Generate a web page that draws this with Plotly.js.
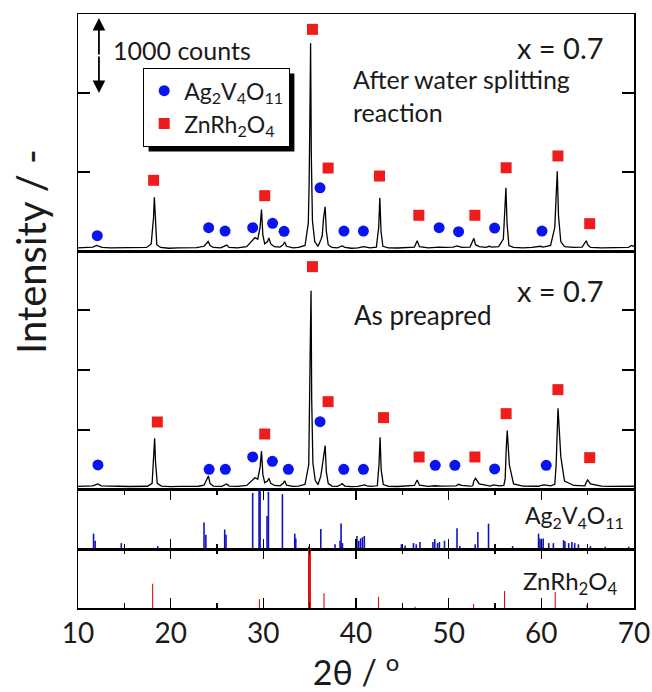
<!DOCTYPE html>
<html>
<head>
<meta charset="utf-8">
<script src="https://cdn.plot.ly/plotly-3.0.1.min.js"></script>
<style>html,body{margin:0;padding:0;background:#fff;}#chart{width:652px;height:692px;}</style>
</head>
<body>
<div id="chart"></div>
<script>
// ---- Data ----
// Panel 1: after water splitting reaction (2theta, counts)
const afterTheta = [10.0,10.8,11.6,12.0,12.2,12.6,13.5,14.5,15.5,16.5,17.4,17.9,18.15,18.24,18.33,18.5,18.9,19.8,20.8,21.8,22.8,23.6,23.9,24.05,24.25,24.6,25.4,25.9,26.05,26.3,27.2,28.2,28.8,29.1,29.4,29.65,29.8,29.95,30.15,30.45,30.6,30.8,31.2,31.8,32.15,32.3,32.5,33.2,33.8,34.5,34.85,34.95,35.05,35.1,35.18,35.3,35.55,35.9,36.2,36.35,36.5,36.67,36.8,37.0,37.4,38.0,38.4,38.55,38.8,39.5,40.2,40.8,41.1,41.5,42.2,42.45,42.57,42.7,42.9,43.5,44.5,45.5,46.3,46.6,46.85,47.8,48.5,49.0,49.6,50.5,50.9,51.07,51.4,52.3,52.6,52.72,52.9,53.3,54.0,54.4,54.6,55.4,55.9,56.05,56.18,56.3,56.5,57.0,58.0,59.0,59.6,59.9,60.2,61.0,61.45,61.62,61.72,61.85,62.1,62.5,63.5,64.4,64.7,64.85,65.0,65.3,66.5,67.5,68.5,69.4,69.7,70.0];
const afterCounts = [40,45,50,70,60,45,40,42,38,40,45,90,420,680,380,80,45,35,40,38,42,60,100,120,70,45,40,60,75,45,40,55,130,170,150,300,525,200,90,120,165,90,55,50,80,115,60,40,45,70,350,900,2000,2630,1200,380,120,60,140,190,420,560,250,80,45,40,60,65,45,35,40,55,50,40,50,300,675,250,60,40,38,42,50,130,55,40,50,48,45,50,65,55,45,50,120,160,80,55,45,60,50,55,150,500,800,350,70,45,40,45,55,60,50,70,300,700,1010,450,120,55,45,50,100,130,80,45,40,40,38,45,70,60];

// Panel 2: as prepared (2theta, counts)
const prepTheta = [10.0,10.8,11.6,12.0,12.15,12.5,13.5,14.5,15.5,16.5,17.5,18.0,18.18,18.27,18.36,18.55,19.0,20.0,21.0,22.0,23.0,23.6,23.9,24.07,24.25,24.6,25.5,25.9,26.05,26.3,27.2,28.2,28.8,29.1,29.4,29.65,29.8,29.95,30.15,30.45,30.6,30.8,31.2,31.8,32.15,32.3,32.5,33.2,33.8,34.5,34.9,35.0,35.08,35.15,35.22,35.35,35.6,35.9,36.2,36.3,36.5,36.67,36.8,37.0,37.4,38.0,38.4,38.5,38.8,39.5,40.2,40.9,41.2,41.6,42.3,42.48,42.6,42.72,42.95,43.5,44.5,45.5,46.3,46.6,46.85,47.8,48.5,49.2,50.0,50.8,51.07,51.4,52.3,52.6,52.72,52.9,53.3,54.0,54.5,54.8,55.5,55.95,56.1,56.2,56.32,56.55,57.0,58.0,59.0,59.7,59.99,60.3,61.0,61.45,61.6,61.69,61.8,62.1,62.5,63.5,64.4,64.7,64.85,65.0,65.3,66.5,67.5,68.5,69.5,70.0];
const prepCounts = [60,65,70,95,100,70,60,62,58,60,62,110,520,861,480,110,65,55,60,58,62,80,170,233,110,65,60,80,100,65,60,75,170,205,180,380,650,260,120,150,195,110,75,70,110,155,80,60,65,95,420,1295,2600,3322,1500,450,160,90,230,333,600,739,300,110,65,60,90,105,65,55,60,85,70,60,70,420,878,330,90,60,58,62,75,167,80,60,70,65,62,70,95,75,65,70,150,195,100,75,65,85,70,75,190,650,989,420,100,65,60,62,75,85,70,95,420,1000,1361,560,150,75,65,70,130,167,100,65,60,60,58,62,60];

// Phase markers, panel 1
const agMark1Theta = [12.08,24.1,25.87,28.85,31.0,32.24,36.12,38.7,40.8,48.97,51.07,54.96,60.07];
const agMark1Y     = [194,295,253,295,350,249,800,253,253,295,245,291,253];
const znMark1Theta = [18.16,30.15,35.3,36.99,42.54,46.78,52.83,56.2,61.79,65.22];
const znMark1Y     = [895,700,2806,1050,949,452,452,1054,1203,346];

// Phase markers, panel 2
const agMark2Theta = [12.15,24.15,25.9,28.85,30.98,32.7,36.12,38.68,40.8,48.55,50.67,54.96,60.53];
const agMark2Y     = [417,344,344,550,478,344,1139,344,344,411,411,350,411];
const znMark2Theta = [18.56,30.15,35.3,36.99,42.97,46.81,52.83,56.2,61.79,65.22];
const znMark2Y     = [1133,933,3722,1472,1206,550,550,1272,1672,539];

// Reference patterns (relative intensity, %)
const agRefTheta = [11.68,11.85,14.67,18.6,23.6,23.8,25.83,25.97,28.85,29.54,29.65,30.4,30.55,32.06,33.39,33.5,34.9,36.2,37.74,38.28,38.39,38.54,39.98,40.1,40.3,40.5,40.7,40.9,44.9,45.3,46.2,46.5,46.9,48.3,48.5,48.8,49.0,49.55,50.9,51.2,52.86,53.15,54.3,56.9,59.7,59.85,60.0,60.2,60.8,61.3,62.4,62.55,62.95,63.3,63.6,64.0,65.3,66.9,69.43];
const agRefInt   = [26,14,10,5,45,24,33,24,95,100,100,56,97,93,26,18,4,34,8,14,43,10,8,22,14,18,20,22,8,6,10,8,12,12,17,10,12,14,35,5,8,29,43,5,26,18,14,18,10,10,15,13,10,12,10,8,5,4,4];
const znRefTheta = [18.06,29.58,34.98,36.55,42.43,46.38,52.69,56.03,61.5,64.92];
const znRefInt   = [41,15,100,25,19,2,7,29,27,5];

const xTickVals = [10,20,30,40,50,60,70];

// ---- Figure ----
const FONT = 'Lato, "Open Sans", sans-serif';
const TXT = '#1a1a1a';
const blue = '#0a14f0', red = '#ee1c1c';

const traces = [
  {x: afterTheta, y: afterCounts, xaxis:'x', yaxis:'y', type:'scatter', mode:'lines',
   line:{color:'#000', width:1.3}, showlegend:false, hoverinfo:'skip'},
  {x: agMark1Theta, y: agMark1Y, xaxis:'x', yaxis:'y', type:'scatter', mode:'markers',
   name:'Ag<sub>2</sub>V<sub>4</sub>O<sub>11</sub>', marker:{symbol:'circle', size:11, color:blue}, cliponaxis:false},
  {x: znMark1Theta, y: znMark1Y, xaxis:'x', yaxis:'y', type:'scatter', mode:'markers',
   name:'ZnRh<sub>2</sub>O<sub>4</sub>', marker:{symbol:'square', size:11, color:red}, cliponaxis:false},
  {x: prepTheta, y: prepCounts, xaxis:'x2', yaxis:'y2', type:'scatter', mode:'lines',
   line:{color:'#000', width:1.3}, showlegend:false, hoverinfo:'skip'},
  {x: agMark2Theta, y: agMark2Y, xaxis:'x2', yaxis:'y2', type:'scatter', mode:'markers',
   marker:{symbol:'circle', size:11, color:blue}, showlegend:false, cliponaxis:false},
  {x: znMark2Theta, y: znMark2Y, xaxis:'x2', yaxis:'y2', type:'scatter', mode:'markers',
   marker:{symbol:'square', size:11, color:red}, showlegend:false, cliponaxis:false},
  {x: agRefTheta, y: agRefInt, xaxis:'x3', yaxis:'y3', type:'bar', width:0.17,
   marker:{color:'#1010c0', line:{width:0}}, showlegend:false},
  {x: znRefTheta, y: znRefInt, xaxis:'x4', yaxis:'y4', type:'bar',
   width: znRefInt.map(v => v >= 90 ? 0.32 : 0.12),
   marker:{color:'#e01010', line:{width:0}}, showlegend:false}
];

const baseX = {range:[10,70], showline:true, linewidth:1.5, linecolor:'#000', mirror:true,
  showgrid:false, zeroline:false, ticks:'', showticklabels:false, tickvals:xTickVals};
const tickX = Object.assign({}, baseX, {ticks:'inside', ticklen:10, tickwidth:1.5, tickcolor:'#000',
  mirror:'ticks', minor:{dtick:5, tick0:10, ticks:'inside', ticklen:5, tickwidth:1.5, tickcolor:'#000'}});
const baseY = {showline:true, linewidth:1.5, linecolor:'#000', mirror:true, showgrid:false,
  zeroline:false, showticklabels:false, ticks:''};

const PW = 556, PH = 594, ML = 78, MT = 14;
const px2x = p => (p - ML) / PW, px2y = p => (MT + PH - p) / PH;
const LEG_L = 143, LEG_T = 68, SH = 5;

const layout = {
  width:652, height:692,
  margin:{l:78, r:18, t:14, b:84},
  paper_bgcolor:'#fff', plot_bgcolor:'#fff',
  font:{family:FONT, color:TXT},
  barmode:'overlay',
  xaxis: Object.assign({}, baseX, {anchor:'y'}),
  xaxis2: Object.assign({}, baseX, {anchor:'y2', matches:'x'}),
  xaxis3: Object.assign({}, tickX, {anchor:'y3', matches:'x'}),
  xaxis4: Object.assign({}, tickX, {anchor:'y4', matches:'x', showticklabels:true,
    ticktext: xTickVals.map(String), tickfont:{size:28, family:FONT, color:TXT},
    title:{text:'2θ / <sup>o</sup>', font:{size:34, family:FONT, color:TXT}, standoff:26}}),
  yaxis: Object.assign({}, baseY, {domain:[0.601,1], range:[0,3000], tickvals:[1000,2000],
    ticks:'inside', ticklen:12, tickwidth:1.5, tickcolor:'#000', mirror:'ticks'}),
  yaxis2: Object.assign({}, baseY, {domain:[0.1987,0.601], range:[0,3983], tickvals:[1000,2000,3000],
    ticks:'inside', ticklen:12, tickwidth:1.5, tickcolor:'#000', mirror:'ticks'}),
  yaxis3: Object.assign({}, baseY, {domain:[0.0993,0.1987], range:[0,100]}),
  yaxis4: Object.assign({}, baseY, {domain:[0,0.0993], range:[0,100]}),
  showlegend:true,
  legend:{x:px2x(LEG_L), y:px2y(LEG_T), xanchor:'left', yanchor:'top', bgcolor:'#fff',
    bordercolor:'#000', borderwidth:1.2, font:{size:23, family:FONT, color:TXT},
    itemwidth:30, tracegroupgap:0},
  annotations:[
    {xref:'x', yref:'y', x:12.26, y:2950, ax:0, ay:38, text:'', showarrow:true,
     arrowhead:2, arrowsize:1.4, arrowwidth:1.8, arrowcolor:'#000'},
    {xref:'x', yref:'y', x:12.26, y:2000, ax:0, ay:-38, text:'', showarrow:true,
     arrowhead:2, arrowsize:1.4, arrowwidth:1.8, arrowcolor:'#000'},
    {xref:'paper', yref:'paper', x:px2x(111), y:px2y(50), xanchor:'left', yanchor:'middle',
     text:'1000 counts', showarrow:false, font:{size:25}},
    {xref:'paper', yref:'paper', x:px2x(606), y:px2y(48), xanchor:'right', yanchor:'middle',
     text:'x = 0.7', showarrow:false, font:{size:29}},
    {xref:'paper', yref:'paper', x:px2x(351), y:px2y(95), xanchor:'left', yanchor:'middle', align:'left',
     text:'After water splitting<br>reaction', showarrow:false, font:{size:25}},
    {xref:'paper', yref:'paper', x:px2x(606), y:px2y(290), xanchor:'right', yanchor:'middle',
     text:'x = 0.7', showarrow:false, font:{size:29}},
    {xref:'paper', yref:'paper', x:px2x(352), y:px2y(315), xanchor:'left', yanchor:'middle',
     text:'As preapred', showarrow:false, font:{size:26}},
    {xref:'paper', yref:'paper', x:px2x(626), y:px2y(516), xanchor:'right', yanchor:'middle',
     text:'Ag<sub>2</sub>V<sub>4</sub>O<sub>11</sub>', showarrow:false, font:{size:23}},
    {xref:'paper', yref:'paper', x:px2x(620), y:px2y(582), xanchor:'right', yanchor:'middle',
     text:'ZnRh<sub>2</sub>O<sub>4</sub>', showarrow:false, font:{size:24}},
    {xref:'paper', yref:'paper', x:px2x(31), y:px2y(252), xanchor:'center', yanchor:'middle',
     text:'Intensity / -', textangle:-90, showarrow:false, font:{size:40}}
  ],
  shapes:[]
};

Plotly.newPlot('chart', traces, layout, {staticPlot:true, displayModeBar:false}).then(gd => {
  // drop shadow behind the legend box, sized from the drawn legend
  const bg = gd.querySelector('.legend rect.bg');
  if (!bg) return;
  const r = bg.getBoundingClientRect(), c = gd.getBoundingClientRect();
  const L = r.left - c.left, T = r.top - c.top;
  return Plotly.relayout(gd, {shapes:[{type:'rect', xref:'paper', yref:'paper',
    x0:px2x(L + SH), x1:px2x(L + r.width + SH), y0:px2y(T + r.height + SH), y1:px2y(T + SH),
    fillcolor:'#000', line:{width:0}, layer:'above'}]});
});
</script>
</body>
</html>
